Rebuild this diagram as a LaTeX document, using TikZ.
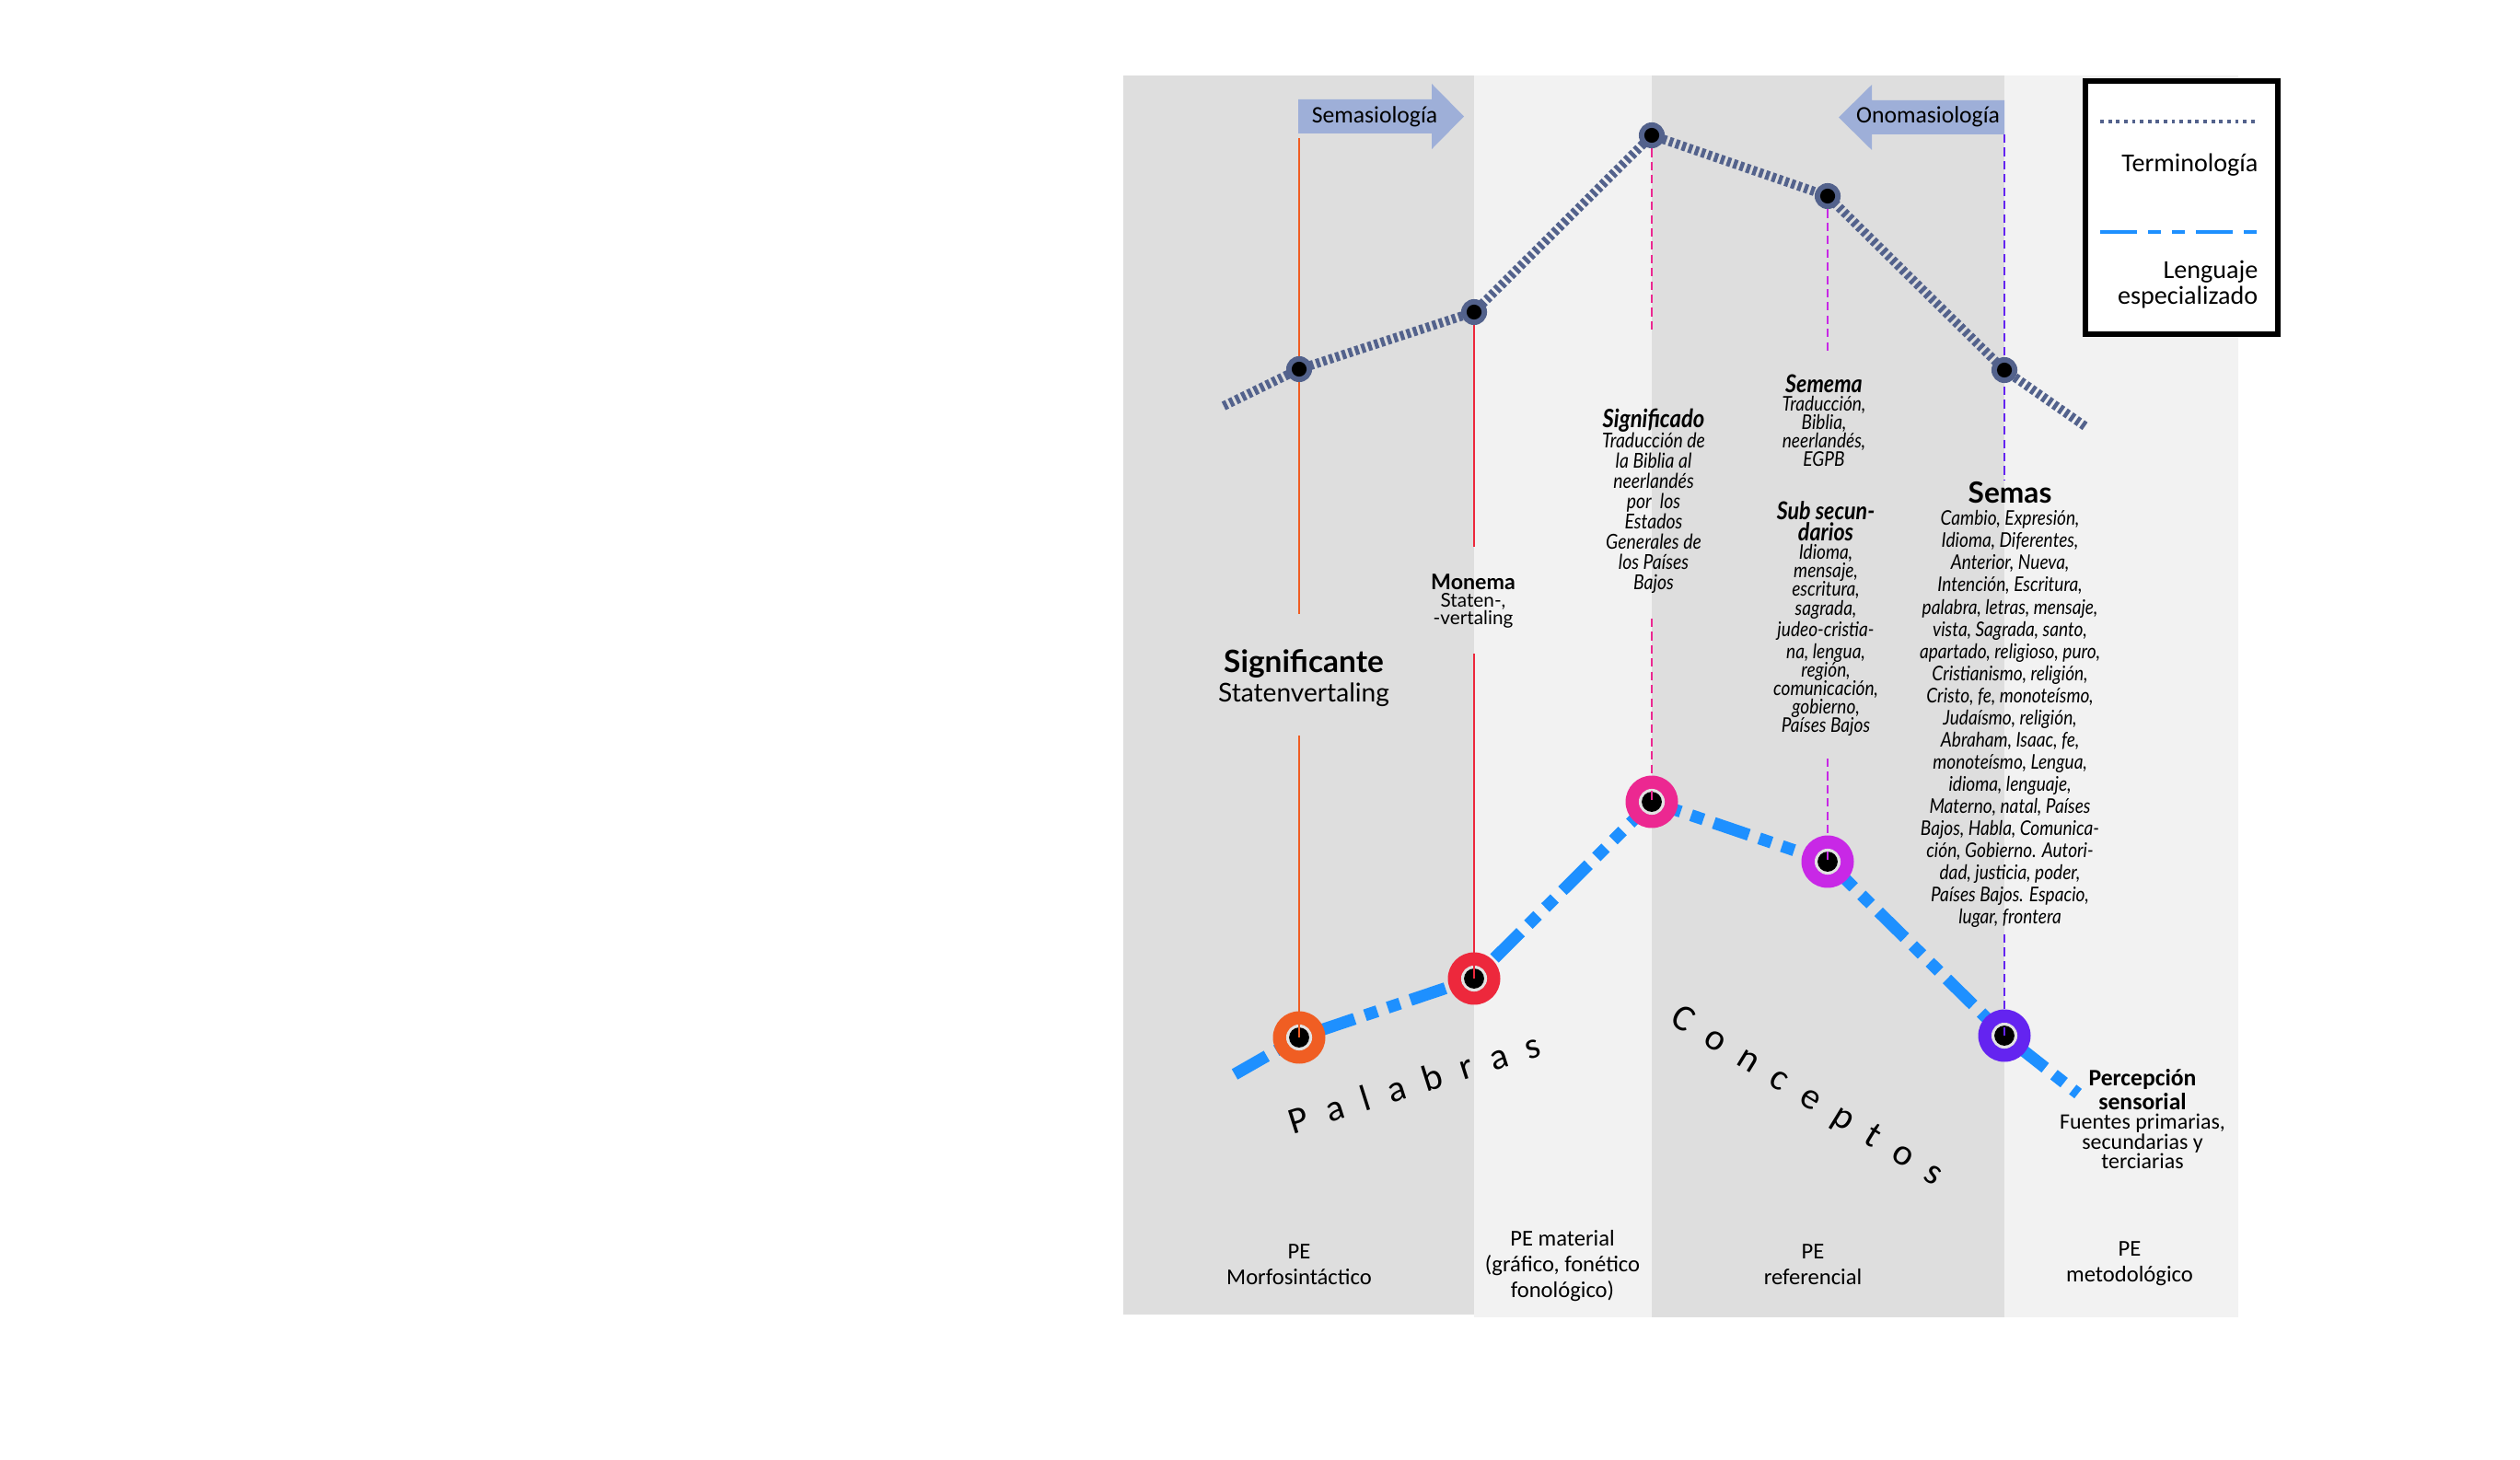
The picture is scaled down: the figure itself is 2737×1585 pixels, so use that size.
\documentclass[tikz,border=0pt]{standalone}
\usepackage{fontspec}
\setmainfont{Carlito}
\newfontfamily\latof{Lato}
\newfontfamily\latocond[FakeStretch=0.87]{Lato}
\definecolor{colA}{RGB}{222,222,222}
\definecolor{colB}{RGB}{242,242,242}
\definecolor{arrowfill}{RGB}{158,175,216}
\definecolor{slate}{RGB}{83,98,140}
\definecolor{dblue}{RGB}{30,144,255}
\definecolor{corange}{RGB}{240,94,35}
\definecolor{cred}{RGB}{237,40,60}
\definecolor{cpink}{RGB}{236,40,145}
\definecolor{cmagenta}{RGB}{200,40,230}
\definecolor{cviolet}{RGB}{100,36,240}
\definecolor{ringgray}{RGB}{226,226,226}
\tikzset{
  tline/.style={draw=slate, line width=2.85pt, dash pattern=on 1.2pt off 0.9pt},
  bline/.style={draw=dblue, line width=3.7pt, dash pattern=on 11.4pt off 3.4pt on 4pt off 3.4pt on 4pt off 3.4pt},
  legdot/.style={draw=slate, line width=1.1pt, dash pattern=on 1.1pt off 1.35pt},
  legdash/.style={draw=dblue, line width=1.4pt, dash pattern=on 11.4pt off 3.4pt on 4pt off 3.4pt on 4pt off 3.4pt},
  tnode/.style={circle, fill=slate, minimum size=8pt, inner sep=0pt,
    path picture={\fill[black] (path picture bounding box.center) circle (2.3pt);}},
  bnode/.style={circle, fill=#1, minimum size=16.2pt, inner sep=0pt,
    path picture={\fill[ringgray] (path picture bounding box.center) circle (4pt);
                  \fill[black] (path picture bounding box.center) circle (3.1pt);}},
  vsolid/.style={draw=#1, line width=0.6pt},
  vdash/.style={draw=#1, line width=0.6pt, dash pattern=on 2.6pt off 1.5pt},
  txt/.style={inner sep=0pt, align=center, text=black},
  arrowtext/.style={inner sep=0pt, font=\fontsize{7.3pt}{8pt}\selectfont},
  petext/.style={inner sep=0pt, align=center, font=\fontsize{7pt}{8pt}\selectfont},
  bigspaced/.style={inner sep=0pt, font=\fontsize{11.5pt}{13pt}\selectfont},
}
\newcommand\lsp{\hspace{5.9pt}}
\begin{document}
\begin{tikzpicture}[x=0.01cm,y=-0.01cm]
\path[use as bounding box, fill=white] (0,0) rectangle (2737,1585);
% columns
\fill[colA] (1220,82) rectangle (1601,1428);
\fill[colB] (1601,82) rectangle (1794,1431);
\fill[colA] (1794,82) rectangle (2177,1431);
\fill[colB] (2177,82) rectangle (2431,1431);
% arrows
\fill[arrowfill] (1410,108) -- (1555,108) -- (1555,91) -- (1590,126.5) -- (1555,162) -- (1555,145) -- (1410,145) -- cycle;
\node[arrowtext] (sema) at (1493,127) {Semasiología};
\fill[arrowfill] (2177,109) -- (2033,109) -- (2033,92) -- (1997,127.5) -- (2033,163) -- (2033,146) -- (2177,146) -- cycle;
\node[arrowtext] (onoma) at (2094,127) {Onomasiología};
% legend
\node[draw=black, line width=1.7pt, fill=white, minimum width=59.5pt, minimum height=78.2pt, inner sep=0pt] (legend) at (2369.5,225.5) {};
\coordinate (lt1) at (2281,132); \coordinate (lt2) at (2453,132);
\draw[legdot] (lt1) -- (lt2);
\node[inner sep=0pt, anchor=east, font=\fontsize{8pt}{9pt}\selectfont] (legT) at (2453,179) {Terminología};
\coordinate (lb1) at (2281,252); \coordinate (lb2) at (2453,252);
\draw[legdash] (lb1) -- (lb2);
\node[inner sep=0pt, anchor=east, align=right, font=\fontsize{8pt}{8pt}\selectfont] (legL) at (2453,309) {Lenguaje\\especializado};
% node positions
\coordinate (t0) at (1329,441);
\coordinate (t6) at (2266,464);
\coordinate (b0) at (1341,1167);
\coordinate (b6) at (2257,1188);
% vertical guide coordinates
\coordinate (o1) at (1411,150);
\coordinate (o2) at (1411,667);
\coordinate (o3) at (1411,799);
\coordinate (r1) at (1601,594);
\coordinate (r2) at (1601,710);
\coordinate (p1) at (1794,360);
\coordinate (p2) at (1794,672);
\coordinate (m1) at (1985,382);
\coordinate (m2) at (1985,824);
\coordinate (v0) at (2177,146);
\coordinate (v1) at (2177,521);
\coordinate (v2) at (2177,1015);
% terminology nodes (placed, drawn later)
\path (1411,401) node[tnode, opacity=0] (t1) {}
      (1601,339) node[tnode, opacity=0] (t2) {}
      (1794,147) node[tnode, opacity=0] (t3) {}
      (1985,213) node[tnode, opacity=0] (t4) {}
      (2177,402) node[tnode, opacity=0] (t5) {};
% upper vertical segments
\draw[vsolid=corange] (o1) -- (o2);
\draw[vsolid=cred] (t2.center) -- (r1);
\draw[vdash=cpink] (t3.center) -- (p1);
\draw[vdash=cmagenta] (t4.center) -- (m1);
\draw[vdash=cviolet] (v0) -- (v1);
% terminology line
\draw[tline] (t0) -- (t1.center) -- (t2.center) -- (t3.center) -- (t4.center) -- (t5.center) -- (t6);
\foreach \n in {t1,t2,t3,t4,t5} \node[tnode] at (\n) {};
% specialised-language line
\path (1411,1127) node[bnode=corange, opacity=0] (b1) {}
      (1601,1063) node[bnode=cred, opacity=0] (b2) {}
      (1794,871) node[bnode=cpink, opacity=0] (b3) {}
      (1985,936) node[bnode=cmagenta, opacity=0] (b4) {}
      (2177,1125) node[bnode=cviolet, opacity=0] (b5) {};
\draw[bline] (b0) -- (b1.center) -- (b2.center) -- (b3.center) -- (b4.center) -- (b5.center) -- (b6);
\node[bnode=corange] at (b1) {};
\node[bnode=cred] at (b2) {};
\node[bnode=cpink] at (b3) {};
\node[bnode=cmagenta] at (b4) {};
\node[bnode=cviolet] at (b5) {};
% lower vertical segments
\draw[vsolid=corange] (o3) -- (b1.center);
\draw[vsolid=cred] (r2) -- (b2.center);
\draw[vdash=cpink] (p2) -- (b3.center);
\draw[vdash=cmagenta] (m2) -- (b4.center);
\draw[vdash=cviolet] (v2) -- (b5.center);
% labels
\node[txt, font=\latof\bfseries\fontsize{9.5pt}{11pt}\selectfont] (sig) at (1416,721) {Significante};
\node[txt, font=\latof\fontsize{8pt}{9pt}\selectfont] (sigw) at (1416,755) {Statenvertaling};
\node[txt, font=\latof\fontsize{5.9pt}{5.4pt}\selectfont] (mon) at (1600,653)
  {{\bfseries\fontsize{6.6pt}{5.4pt}\selectfont Monema}\\Staten-,\\-vertaling};
\node[txt, font=\latocond\itshape\fontsize{6.35pt}{6.26pt}\selectfont] (sdo) at (1796,544)
  {{\bfseries\fontsize{7.8pt}{6.26pt}\selectfont Significado}\\Traducción de\\la Biblia al\\neerlandés\\por\ \ los\\Estados\\Generales de\\los Países\\Bajos};
\node[txt, font=\latocond\itshape\fontsize{6.25pt}{5.7pt}\selectfont] (sem) at (1981,457)
  {{\bfseries\fontsize{7.6pt}{5.7pt}\selectfont Semema}\\Traducción,\\Biblia,\\neerlandés,\\EGPB};
\node[txt, font=\latocond\itshape\fontsize{6.25pt}{5.7pt}\selectfont] (subs) at (1983,672)
  {{\bfseries\fontsize{7.6pt}{5.7pt}\selectfont Sub secun-}\\{\bfseries\fontsize{7.6pt}{5.7pt}\selectfont darios}\\Idioma,\\mensaje,\\escritura,\\sagrada,\\judeo-cristia-\\na, lengua,\\región,\\comunicación,\\gobierno,\\Países Bajos};
\node[txt, font=\latof\bfseries\fontsize{9pt}{10pt}\selectfont] (semasT) at (2183,535) {Semas};
\node[txt, font=\latocond\itshape\fontsize{6.25pt}{6.83pt}\selectfont] (semasB) at (2183,781)
  {Cambio, Expresión,\\Idioma, Diferentes,\\Anterior, Nueva,\\Intención, Escritura,\\palabra, letras, mensaje,\\vista, Sagrada, santo,\\apartado, religioso, puro,\\Cristianismo, religión,\\Cristo, fe, monoteísmo,\\Judaísmo, religión,\\Abraham, Isaac, fe,\\monoteísmo, Lengua,\\idioma, lenguaje,\\Materno, natal, Países\\Bajos, Habla, Comunica-\\ción, Gobierno. Autori-\\dad, justicia, poder,\\Países Bajos. Espacio,\\lugar, frontera};
\node[txt, font=\fontsize{6.8pt}{6.1pt}\selectfont] (perc) at (2327,1216)
  {{\bfseries\fontsize{7.3pt}{6.1pt}\selectfont Percepción}\\{\bfseries\fontsize{7.3pt}{6.1pt}\selectfont sensorial}\\Fuentes primarias,\\secundarias y\\terciarias};
\node[bigspaced, rotate=17.6] (pal) at (1536,1176) {P\lsp a\lsp l\lsp a\lsp b\lsp r\lsp a\lsp s};
\node[bigspaced, rotate=-31.5] (con) at (1962,1192) {C\lsp o\lsp n\lsp c\lsp e\lsp p\lsp t\lsp o\lsp s};
\node[petext] (pe1) at (1411,1374) {PE\\Morfosintáctico};
\node[petext] (pe2) at (1697,1375) {PE material\\(gráfico, fonético\\fonológico)};
\node[petext] (pe3) at (1969,1374) {PE\\referencial};
\node[petext] (pe4) at (2313,1373) {PE\\metodológico};
\end{tikzpicture}
\end{document}
